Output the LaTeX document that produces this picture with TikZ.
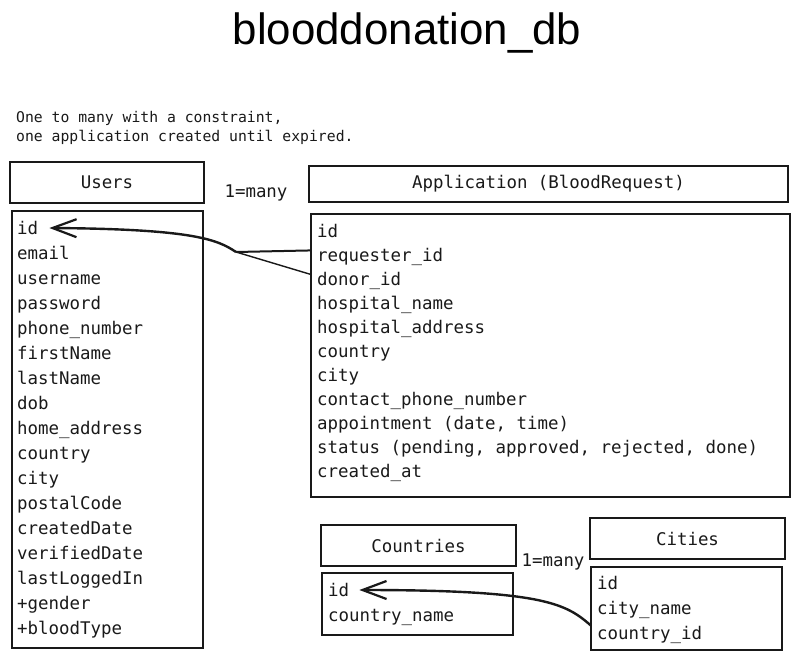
\documentclass[tikz,border=0pt]{standalone}
\usepackage{fontspec}
\setmonofont{DejaVu Sans Mono}
\newfontfamily\titlefont{Liberation Sans}
\usetikzlibrary{arrows.meta}
\begin{document}
\begin{tikzpicture}[x=1bp,y=-1bp,
  box/.style={draw=black!90,line width=1.6bp},
  fld/.style={anchor=base west,inner sep=0pt,font=\fontsize{17.5}{20}\selectfont\ttfamily,text=black!90},
  hdr/.style={inner sep=0pt,font=\fontsize{17.5}{20}\selectfont\ttfamily,text=black!90},
  lbl/.style={inner sep=0pt,font=\fontsize{17.5}{20}\selectfont\ttfamily,text=black!90},
  rel/.style={line width=2.4bp,draw=black!90,-{Straight Barb[length=24bp,width=18bp,line width=2.2bp]}},
  thin/.style={line width=2bp,draw=black!90}]
\useasboundingbox (0,0) rectangle (800,662);
% title
\node[inner sep=0pt,font=\fontsize{44}{48}\selectfont\titlefont] (title) at (407,33) {blooddonation\_db};
\node[anchor=north west,align=left,inner sep=0pt,font=\fontsize{14.8}{19.5}\selectfont\ttfamily,text=black!90] (note) at (16,111) {One to many with a constraint,\\one application created until expired.};
% Users
\draw[box] (10,162) rectangle (204,203) node[pos=.5,hdr] (uhdr) {Users};
\draw[box] (12,211) rectangle (203,648);
\node[inner sep=0pt] (ubody) at (107.5,429.5) [minimum width=191bp,minimum height=437bp] {};
\foreach \n/\t [count=\i from 0] in {uid/id,uemail/email,uuser/username,upass/password,uphone/phone\_number,ufirst/firstName,ulast/lastName,udob/dob,uhome/home\_address,ucountry/country,ucity/city,upostal/postalCode,ucreated/createdDate,uverified/verifiedDate,ulogged/lastLoggedIn,ugender/+gender,ublood/+bloodType}
  \node[fld] (\n) at (17,234+25*\i) {\t};
% Application
\draw[box] (309,166) rectangle (788,202) node[pos=.5,hdr] (ahdr) {Application (BloodRequest)};
\draw[box] (311,214) rectangle (790,497);
\node[inner sep=0pt] (abody) at (550.5,355.5) [minimum width=479bp,minimum height=283bp] {};
\foreach \n/\t [count=\i from 0] in {aid/id,areq/requester\_id,adonor/donor\_id,ahname/hospital\_name,ahaddr/hospital\_address,acountry/country,acity/city,acontact/contact\_phone\_number,aappt/{appointment (date, time)},astatus/{status (pending, approved, rejected, done)},acreated/created\_at}
  \node[fld] (\n) at (317,237+24*\i) {\t};
% Countries
\draw[box] (321,525) rectangle (516,566) node[pos=.5,hdr] (cohdr) {Countries};
\draw[box] (322,573) rectangle (513,635);
\node[fld] (coid) at (328,596) {id};
\node[fld] (coname) at (328,621) {country\_name};
% Cities
\draw[box] (590,518) rectangle (785,559) node[pos=.5,hdr] (cihdr) {Cities};
\draw[box] (591,567) rectangle (782,650);
\node[inner sep=0pt] (cibody) at (686.5,608.5) [minimum width=191bp,minimum height=83bp] {};
\node[fld] (ciid) at (597,589) {id};
\node[fld] (ciname) at (597,614) {city\_name};
\node[fld] (cicid) at (597,639) {country\_id};
% labels
\node[lbl] (l1) at (256,193) {1=many};
\node[lbl] (l2) at (553,562) {1=many};
% connectors
\coordinate (j1) at (236,252);
\draw[thin] (abody.west |- areq) ++(0,-6) -- (j1);
\draw[line width=1.4bp,draw=black!90] (abody.west |- adonor) ++(0,-6) -- (j1);
\draw[rel] (j1) .. controls (218,240) and (195,229) .. ([xshift=11bp,yshift=6bp]uid.base east);
\draw[rel] ([yshift=9bp]cibody.west |- cicid) .. controls (566,604) and (545,590) .. ([xshift=10bp,yshift=6bp]coid.base east);
\end{tikzpicture}
\end{document}
